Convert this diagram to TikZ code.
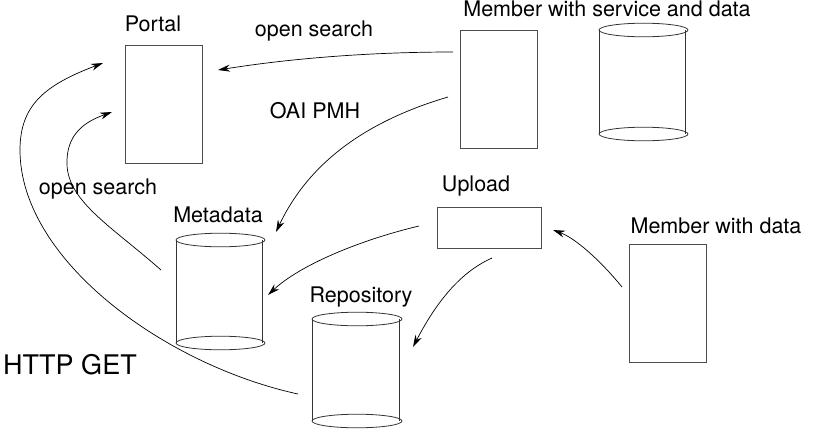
\documentclass[tikz,border=0pt]{standalone}
\usepackage{fontspec}
\setmainfont{TeX Gyre Heros}
\usetikzlibrary{arrows.meta}
\tikzset{
  box/.style={draw=black!70, line width=0.8pt, inner sep=0pt},
  lbl/.style={font=\fontsize{21.5}{24}\selectfont, inner sep=0pt},
  biglbl/.style={font=\fontsize{27}{30}\selectfont, inner sep=0pt},
  conn/.style={line width=0.7pt, -{Stealth[length=12pt,width=7pt]}},
  cyl/.style={draw=black!80, line width=0.8pt},
}
\newcommand\drawcyl[5]{% name, x1, x2, ytop, ybot
  \coordinate (#1) at ({(#2+#3)/2},{(#4+#5)/2});
  \draw[cyl] ({(#2+#3)/2},#4) ellipse [x radius={(#3-#2)/2*1pt}, y radius=6.8pt];
  \draw[cyl] ({(#2+#3)/2},#5) ellipse [x radius={(#3-#2)/2*1pt}, y radius=6.8pt];
  \draw[cyl] (#2,#4) -- (#2,#5);
  \draw[cyl] (#3-3,#4) -- (#3-3,#5);
}
\begin{document}
\begin{tikzpicture}[x=1pt,y=-1pt]
\useasboundingbox (0,0) rectangle (813,429);
% boxes
\node[box, minimum width=77pt, minimum height=118pt] (portal) at (163.5,104) {};
\node[box, minimum width=77pt, minimum height=118pt] (msd) at (498.5,89) {};
\node[box, minimum width=104pt, minimum height=41pt] (upload) at (489,227.5) {};
\node[box, minimum width=77pt, minimum height=118pt] (md) at (667.5,303) {};
% cylinders
\drawcyl{msdcyl}{599}{688}{30}{134}
\drawcyl{meta}{176}{265}{240}{343}
\drawcyl{repo}{312}{402}{319}{421}
% labels
\node[lbl] (lportal) at (153,24) {Portal};
\node[lbl] (los1) at (314,31) {open search};
\node[lbl] (loai) at (315,111) {OAI PMH};
\node[lbl] (lmsd) at (607,9) {Member with service and data};
\node[lbl] (lupload) at (476,186) {Upload};
\node[lbl] (lmd) at (716,226) {Member with data};
\node[lbl] (lmeta) at (218,215) {Metadata};
\node[lbl] (lrepo) at (361,297) {Repository};
\node[lbl] (los2) at (98,189) {open search};
\node[biglbl] (lhttp) at (70,365) {HTTP GET};
% connector end points
\coordinate (a1) at (453,52);   \coordinate (a2) at (218,70);
\coordinate (b1) at (448,97);   \coordinate (b2) at (276,232);
\coordinate (c1) at (419,226);  \coordinate (c2) at (268,295);
\coordinate (d1) at (492,258);  \coordinate (d2) at (413,347);
\coordinate (e1) at (622,287);  \coordinate (e2) at (553,230);
\coordinate (f1) at (161,270);  \coordinate (fm) at (67,160);  \coordinate (f2) at (112,112);
\coordinate (g1) at (298,394);  \coordinate (gm) at (20,150);  \coordinate (g2) at (103,63);
% connectors
\draw[conn] (a1) .. controls (380,52) and (300,57) .. (a2);
\draw[conn] (b1) .. controls (370,120) and (310,160) .. (b2);
\draw[conn] (c1) .. controls (360,240) and (300,265) .. (c2);
\draw[conn] (d1) .. controls (465,270) and (440,295) .. (d2);
\draw[conn] (e1) .. controls (600,260) and (575,238) .. (e2);
\draw[conn] (f1) .. controls (110,225) and (65,200) .. (fm) .. controls (68,130) and (90,120) .. (f2);
\draw[conn] (g1) .. controls (165,365) and (20,260) .. (gm) .. controls (20,105) and (45,85) .. (g2);
\end{tikzpicture}
\end{document}
